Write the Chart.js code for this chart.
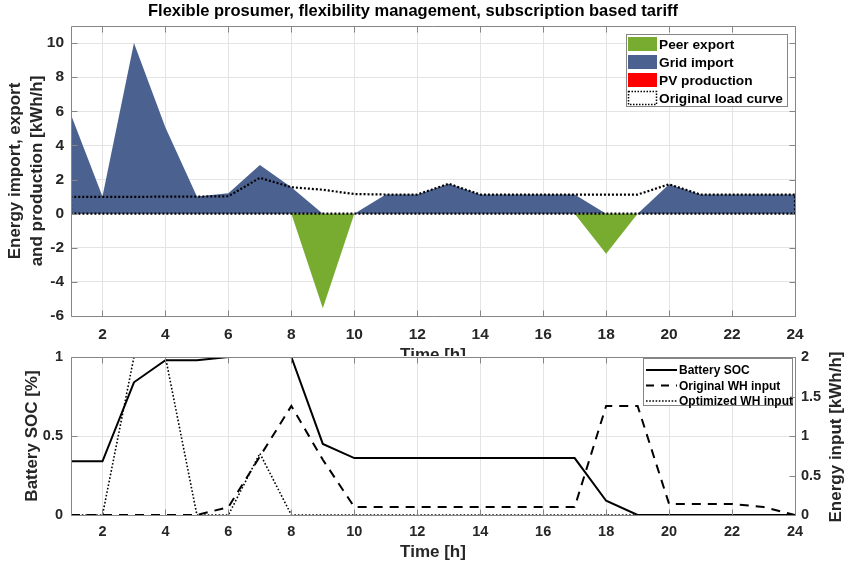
<!DOCTYPE html>
<html>
<head>
<meta charset="utf-8">
<script src="https://cdn.jsdelivr.net/npm/chart.js@4.4.1/dist/chart.umd.min.js"></script>
<style>
    html, body { margin: 0; padding: 0; background: #ffffff; }
    #wrap { position: relative; width: 851px; height: 566px; overflow: hidden; }
    #topChart { position: absolute; left: 0; top: 0; }
    #bottomChart { position: absolute; left: 0; top: 340px; }
</style>
</head>
<body>
<div id="wrap">
    <canvas id="topChart" width="851" height="370"></canvas>
    <canvas id="bottomChart" width="851" height="226"></canvas>
</div>
<script>
var hours = [1, 2, 3, 4, 5, 6, 7, 8, 9, 10, 11, 12, 13, 14, 15, 16, 17, 18, 19, 20, 21, 22, 23, 24];
var xTicks = [2, 4, 6, 8, 10, 12, 14, 16, 18, 20, 22, 24];

// top plot
var peerExport   = [0, 0, 0, 0, 0, 0, 0, 0, -5.55, 0, 0, 0, 0, 0, 0, 0, 0, -2.35, 0, 0, 0, 0, 0, 0];
var gridImport   = [5.8, 1.0, 10.0, 5.05, 1.0, 1.2, 2.85, 1.55, 0, 0, 1.12, 1.12, 1.75, 1.12, 1.12, 1.12, 1.12, 0, 0, 1.72, 1.12, 1.12, 1.12, 1.12];
var pvProduction = [0, 0, 0, 0, 0, 0, 0, 0, 0, 0, 0, 0, 0, 0, 0, 0, 0, 0, 0, 0, 0, 0, 0, 0];
var originalLoad = [0.98, 0.98, 0.98, 1.0, 1.0, 1.02, 2.1, 1.55, 1.4, 1.15, 1.12, 1.12, 1.75, 1.12, 1.12, 1.12, 1.12, 1.12, 1.12, 1.72, 1.12, 1.12, 1.12, 1.12];
var topYTicks = [-6, -4, -2, 0, 2, 4, 6, 8, 10];

// bottom plot
var batterySoc   = [0.34, 0.34, 0.84, 0.98, 0.98, 1.0, 1.0, 1.0, 0.45, 0.36, 0.36, 0.36, 0.36, 0.36, 0.36, 0.36, 0.36, 0.09, 0, 0, 0, 0, 0, 0];
var originalWH   = [0, 0, 0, 0, 0, 0.1, 0.74, 1.38, 0.7, 0.1, 0.1, 0.1, 0.1, 0.1, 0.1, 0.1, 0.1, 1.38, 1.38, 0.14, 0.14, 0.14, 0.1, 0];
var optimizedWH  = [0, 0, 2, 2, 0, 0, 0.78, 0, 0, 0, 0, 0, 0, 0, 0, 0, 0, 0, 0, 0, 0, 0, 0, 0];
var socTicks = [0, 0.5, 1];
var whTicks = [0, 0.5, 1, 1.5, 2];

var FONT = "'Liberation Sans', Arial, Helvetica, sans-serif";
var TXT = "#262626";
var GRID = "#e4e4e4";
var AXIS = "#858585";
var GREEN = "#77ac30";
var BLUE = "#4b6190";

function pts(ys) {
    return hours.map(function (h, i) { return { x: h, y: ys[i] }; });
}

// closed outline of the original load curve (MATLAB area drawn with no face)
function loadOutline() {
    var p = [{ x: hours[0], y: 0 }].concat(pts(originalLoad));
    p.push({ x: hours[hours.length - 1], y: 0 });
    p.push({ x: hours[0], y: 0 });
    return p;
}

function fixTicks(list) {
    return function (scale) {
        scale.ticks = list.map(function (v) { return { value: v }; });
    };
}

function plainLabel(v) {
    return String(v);
}

// white page behind the lower axes; strip above stays clear so the upper xlabel peeks through
var paperPlugin = {
    id: 'paper',
    beforeDraw: function (chart, args, opts) {
        var ctx = chart.ctx;
        ctx.save();
        ctx.fillStyle = '#ffffff';
        ctx.fillRect(0, opts.from || 0, chart.width, chart.height);
        ctx.restore();
    }
};

// axes box with inward tick marks
var boxPlugin = {
    id: 'box',
    afterDraw: function (chart) {
        var ctx = chart.ctx;
        var a = chart.chartArea;
        var sx = chart.scales.x;
        var sl = chart.scales.y;
        var sr = chart.scales.y1;
        var l = Math.round(a.left) + 0.5, r = Math.round(a.right) + 0.5;
        var t = Math.round(a.top) + 0.5, b = Math.round(a.bottom) + 0.5;
        ctx.save();
        ctx.strokeStyle = AXIS;
        ctx.lineWidth = 1;
        ctx.beginPath();
        sx.ticks.forEach(function (tk) {
            var px = Math.round(sx.getPixelForValue(tk.value)) + 0.5;
            ctx.moveTo(px, b); ctx.lineTo(px, b - 6);
            ctx.moveTo(px, t); ctx.lineTo(px, t + 6);
        });
        sl.ticks.forEach(function (tk) {
            var py = Math.round(sl.getPixelForValue(tk.value)) + 0.5;
            ctx.moveTo(l, py); ctx.lineTo(l + 6, py);
            if (!sr) { ctx.moveTo(r, py); ctx.lineTo(r - 6, py); }
        });
        if (sr) {
            sr.ticks.forEach(function (tk) {
                var py = Math.round(sr.getPixelForValue(tk.value)) + 0.5;
                ctx.moveTo(r, py); ctx.lineTo(r - 6, py);
            });
        }
        // frame
        ctx.moveTo(l, t); ctx.lineTo(r, t);
        ctx.moveTo(r, t); ctx.lineTo(r, b);
        ctx.moveTo(r, b); ctx.lineTo(l, b);
        ctx.moveTo(l, b); ctx.lineTo(l, t);
        ctx.stroke();
        ctx.restore();
    }
};

// free text: plot title and the right axis label (reads bottom to top)
var textPlugin = {
    id: 'freeText',
    afterDraw: function (chart, args, opts) {
        if (!opts.items) return;
        var ctx = chart.ctx;
        opts.items.forEach(function (t) {
            ctx.save();
            ctx.translate(t.x, t.y);
            if (t.rotate) ctx.rotate(-Math.PI / 2);
            ctx.font = 'bold ' + t.size + 'px ' + FONT;
            ctx.fillStyle = t.color;
            ctx.textAlign = 'center';
            ctx.textBaseline = 'middle';
            ctx.fillText(t.text, 0, 0);
            ctx.restore();
        });
    }
};

// legend box drawn inside the axes like MATLAB does
var legendPlugin = {
    id: 'boxLegend',
    afterDraw: function (chart, args, opts) {
        if (!opts.items) return;
        var ctx = chart.ctx;
        ctx.save();
        ctx.fillStyle = '#ffffff';
        ctx.fillRect(opts.x, opts.y, opts.w, opts.h);
        ctx.strokeStyle = AXIS;
        ctx.lineWidth = 1;
        ctx.strokeRect(opts.x + 0.5, opts.y + 0.5, opts.w, opts.h);
        ctx.font = 'bold ' + opts.fontSize + 'px ' + FONT;
        ctx.textBaseline = 'middle';
        opts.items.forEach(function (it, i) {
            var cy = opts.y + opts.first + i * opts.step;
            var sx = opts.x + opts.swatchX;
            if (it.type === 'fill') {
                ctx.fillStyle = it.color;
                ctx.fillRect(sx, cy - 7, opts.swatchW, 14);
            } else if (it.type === 'outline') {
                ctx.setLineDash([1.5, 1.5]);
                ctx.strokeStyle = '#000';
                ctx.lineWidth = 1.5;
                ctx.strokeRect(sx + 0.5, cy - 6.5, opts.swatchW - 1, 13);
            } else {
                ctx.setLineDash(it.dash);
                ctx.strokeStyle = '#000';
                ctx.lineWidth = it.width;
                ctx.beginPath();
                ctx.moveTo(sx, cy);
                ctx.lineTo(sx + opts.swatchW, cy);
                ctx.stroke();
            }
            ctx.setLineDash([]);
            ctx.fillStyle = '#000';
            ctx.fillText(it.label, opts.x + opts.textX, cy + 1);
        });
        ctx.restore();
    }
};

var topChart = new Chart(document.getElementById('topChart'), {
    type: 'line',
    data: {
        datasets: [{
            label: 'Grid import',
            data: pts(gridImport),
            order: 3,
            borderWidth: 0,
            backgroundColor: BLUE,
            fill: 'origin',
            pointRadius: 0
        }, {
            label: 'Peer export',
            data: pts(peerExport),
            order: 2,
            borderWidth: 0,
            backgroundColor: GREEN,
            fill: 'origin',
            pointRadius: 0
        }, {
            label: 'PV production',
            data: pts(pvProduction),
            order: 1,
            borderWidth: 0,
            backgroundColor: '#ff0000',
            fill: 'origin',
            pointRadius: 0
        }, {
            label: 'Original load curve',
            data: loadOutline(),
            order: 0,
            borderColor: '#000000',
            borderWidth: 2.2,
            borderDash: [2, 2],
            fill: false,
            pointRadius: 0
        }]
    },
    options: {
        responsive: false,
        animation: false,
        events: [],
        layout: { padding: { left: 0, right: 56, top: 26, bottom: 0 } },
        plugins: {
            legend: { display: false },
            tooltip: { enabled: false },
            title: { display: false },
            paper: { from: 0 },
            freeText: {
                items: [
                    { text: 'Flexible prosumer, flexibility management, subscription based tariff', x: 413, y: 11, size: 16.5, color: '#000' }
                ]
            },
            boxLegend: {
                x: 626, y: 34, w: 161, h: 72,
                first: 10, step: 18, swatchX: 2, swatchW: 29, textX: 33, fontSize: 13.7,
                items: [
                    { type: 'fill', color: GREEN, label: 'Peer export' },
                    { type: 'fill', color: BLUE, label: 'Grid import' },
                    { type: 'fill', color: '#ff0000', label: 'PV production' },
                    { type: 'outline', label: 'Original load curve' }
                ]
            }
        },
        scales: {
            x: {
                type: 'linear', min: 1, max: 24,
                afterBuildTicks: fixTicks(xTicks),
                afterFit: function (s) { s.height = 54; },
                grid: { color: GRID, drawTicks: false },
                border: { display: false },
                ticks: { color: TXT, padding: 9, maxRotation: 0, font: { family: FONT, size: 15.5, weight: 'bold' } },
                title: { display: true, text: 'Time [h]', color: TXT, font: { family: FONT, size: 17, weight: 'bold' }, padding: { top: 0, bottom: 4 } }
            },
            y: {
                min: -6, max: 11,
                afterBuildTicks: fixTicks(topYTicks),
                afterFit: function (s) { s.width = 71; },
                grid: { color: GRID, drawTicks: false },
                border: { display: false },
                ticks: { color: TXT, padding: 7, callback: plainLabel, font: { family: FONT, size: 15.5, weight: 'bold' } },
                title: {
                    display: true,
                    text: ['Energy import, export', 'and production [kWh/h]'],
                    color: TXT,
                    font: { family: FONT, size: 17, weight: 'bold', lineHeight: 1.3 },
                    padding: { top: 4, bottom: 0 }
                }
            }
        }
    },
    plugins: [paperPlugin, boxPlugin, legendPlugin, textPlugin]
});

var bottomChart = new Chart(document.getElementById('bottomChart'), {
    type: 'line',
    data: {
        datasets: [{
            label: 'Battery SOC',
            data: pts(batterySoc),
            yAxisID: 'y',
            borderColor: '#000000',
            borderWidth: 2,
            fill: false,
            pointRadius: 0
        }, {
            label: 'Original WH input',
            data: pts(originalWH),
            yAxisID: 'y1',
            borderColor: '#000000',
            borderWidth: 2,
            borderDash: [9, 7],
            fill: false,
            pointRadius: 0
        }, {
            label: 'Optimized WH input',
            data: pts(optimizedWH),
            yAxisID: 'y1',
            borderColor: '#000000',
            borderWidth: 1.6,
            borderDash: [1.6, 2],
            fill: false,
            pointRadius: 0
        }]
    },
    options: {
        responsive: false,
        animation: false,
        events: [],
        layout: { padding: { left: 0, right: 0, top: 17, bottom: 0 } },
        plugins: {
            legend: { display: false },
            tooltip: { enabled: false },
            paper: { from: 16 },
            freeText: {
                items: [
                    { text: 'Energy input [kWh/h]', x: 836, y: 97, size: 17, color: TXT, rotate: true }
                ]
            },
            boxLegend: {
                x: 643, y: 18, w: 149, h: 47,
                first: 12, step: 15.5, swatchX: 3, swatchW: 31, textX: 36, fontSize: 12,
                items: [
                    { type: 'line', dash: [], width: 2, label: 'Battery SOC' },
                    { type: 'line', dash: [8, 7], width: 2, label: 'Original WH input' },
                    { type: 'line', dash: [1.6, 1.6], width: 1.4, label: 'Optimized WH input' }
                ]
            }
        },
        scales: {
            x: {
                type: 'linear', min: 1, max: 24,
                afterBuildTicks: fixTicks(xTicks),
                afterFit: function (s) { s.height = 51; },
                grid: { color: GRID, drawTicks: false },
                border: { display: false },
                ticks: { color: TXT, padding: 8, maxRotation: 0, font: { family: FONT, size: 14.5, weight: 'bold' } },
                title: { display: true, text: 'Time [h]', color: TXT, font: { family: FONT, size: 17, weight: 'bold' }, padding: { top: 0, bottom: 3 } }
            },
            y: {
                position: 'left',
                min: 0, max: 1,
                afterBuildTicks: fixTicks(socTicks),
                afterFit: function (s) { s.width = 71; },
                grid: { color: GRID, drawTicks: false },
                border: { display: false },
                ticks: { color: TXT, padding: 8, callback: plainLabel, font: { family: FONT, size: 14.5, weight: 'bold' } },
                title: { display: true, text: 'Battery SOC [%]', color: TXT, font: { family: FONT, size: 17, weight: 'bold' }, padding: { top: 22, bottom: 0 } }
            },
            y1: {
                position: 'right',
                min: 0, max: 2,
                afterBuildTicks: fixTicks(whTicks),
                afterFit: function (s) { s.width = 56; },
                grid: { display: false, drawTicks: false },
                border: { display: false },
                ticks: { color: TXT, padding: 6, callback: plainLabel, font: { family: FONT, size: 14.5, weight: 'bold' } },
                title: { display: false }
            }
        }
    },
    plugins: [paperPlugin, boxPlugin, legendPlugin, textPlugin]
});
</script>
</body>
</html>
